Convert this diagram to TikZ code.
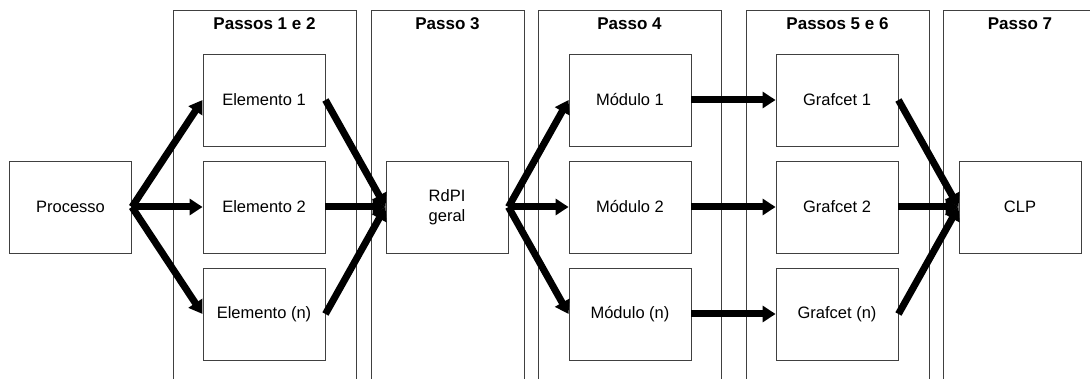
\documentclass[tikz,border=0pt]{standalone}
\usepackage{fontspec}
\setmainfont{Liberation Sans}
\usetikzlibrary{arrows.meta}
\begin{document}
\begin{tikzpicture}[x=1pt,y=-1pt,
  col/.style={draw=black!75, line width=0.9pt, fill=none, minimum width=#1, minimum height=400pt, anchor=north west, inner sep=0pt},
  hdr/.style={font=\fontsize{17}{20}\selectfont\bfseries, anchor=center},
  box/.style={draw=black!75, line width=0.9pt, fill=white, minimum width=122pt, minimum height=92pt, inner sep=0pt, align=center, font=\fontsize{16.5}{19.5}\selectfont},
  arr/.style={line width=7pt, -{Triangle[length=13pt,width=16pt]}}]
\useasboundingbox (0,0) rectangle (1090,379);
% columns
\node[col=183pt] (c1) at (173,10) {};
\node[col=153pt] (c3) at (371,10) {};
\node[col=183pt] (c4) at (538,10) {};
\node[col=183pt] (c5) at (746,10) {};
\node[col=200pt] (c7) at (943,10) {};
\node[hdr] (h1) at (264.5,24) {Passos 1 e 2};
\node[hdr] (h3) at (447.5,24) {Passo 3};
\node[hdr] (h4) at (629.5,24) {Passo 4};
\node[hdr] (h5) at (837.5,24) {Passos 5 e 6};
\node[hdr] (h7) at (1020,24) {Passo 7};
% boxes
\node[box] (p) at (70.5,207) {Processo};
\node[box] (e1) at (264,100) {Elemento 1};
\node[box] (e2) at (264,207) {Elemento 2};
\node[box] (en) at (264,314) {Elemento (n)};
\node[box] (r) at (447,207) {RdPI\\geral};
\node[box] (m1) at (630,100) {Módulo 1};
\node[box] (m2) at (630,207) {Módulo 2};
\node[box] (mn) at (630,314) {Módulo (n)};
\node[box] (g1) at (837,100) {Grafcet 1};
\node[box] (g2) at (837,207) {Grafcet 2};
\node[box] (gn) at (837,314) {Grafcet (n)};
\node[box] (clp) at (1020,207) {CLP};
% arrows
\draw[arr] (p.east) -- (e1.west);
\draw[arr] (p.east) -- (e2.west);
\draw[arr] (p.east) -- (en.west);
\draw[arr] (e1.east) -- (r.west);
\draw[arr] (e2.east) -- (r.west);
\draw[arr] (en.east) -- (r.west);
\draw[arr] (r.east) -- (m1.west);
\draw[arr] (r.east) -- (m2.west);
\draw[arr] (r.east) -- (mn.west);
\draw[arr] (m1.east) -- (g1.west);
\draw[arr] (m2.east) -- (g2.west);
\draw[arr] (mn.east) -- (gn.west);
\draw[arr] (g1.east) -- (clp.west);
\draw[arr] (g2.east) -- (clp.west);
\draw[arr] (gn.east) -- (clp.west);
\end{tikzpicture}
\end{document}
